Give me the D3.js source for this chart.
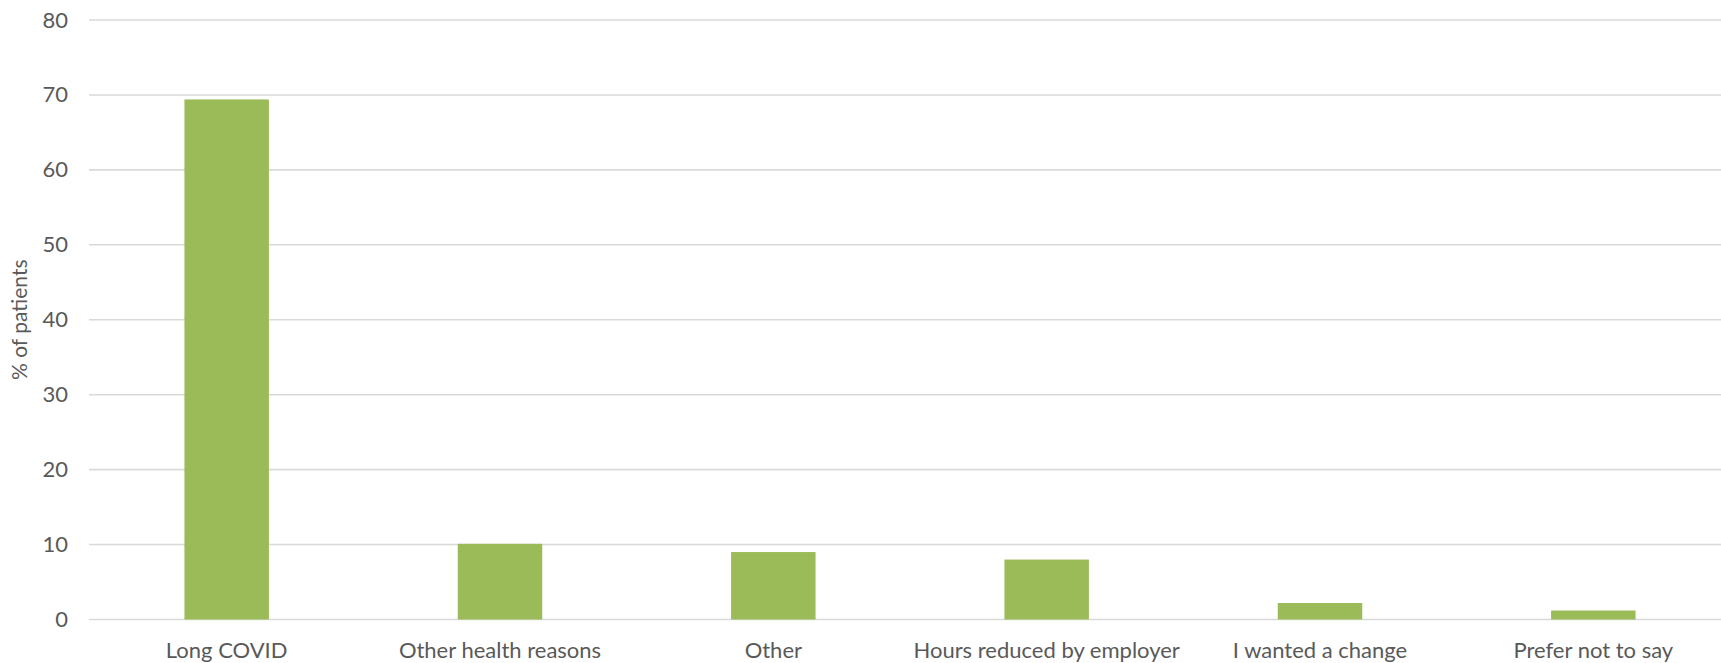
<!DOCTYPE html>
<html><head><meta charset="utf-8">
<script src="https://cdn.jsdelivr.net/npm/d3@7"></script>
<style>html,body{margin:0;padding:0;background:#fff;overflow:hidden}</style>
</head><body>
<svg id="chart" width="1721" height="663"></svg>
<script>
const categories = ["Long COVID","Other health reasons","Other","Hours reduced by employer","I wanted a change","Prefer not to say"];
const values = [69.4, 10.1, 9.0, 8.0, 2.2, 1.2];
const yTicks = [0,10,20,30,40,50,60,70,80];
const yTitle = "% of patients";

const W = 1721, H = 663;
const m = {left: 89, top: 20, bottom: 43.5};
const plotRight = 1730;
const svg = d3.select("#chart");
const font = "Lato, 'Open Sans', sans-serif";

const x = d3.scaleBand().domain(categories).range([m.left + 1, plotRight]).paddingInner(0.691).paddingOuter(0.3455);
const y = d3.scaleLinear().domain([0, 80]).range([H - m.bottom, m.top]);

// gridlines
svg.append("g").selectAll("line").data(yTicks).join("line")
  .attr("x1", m.left).attr("x2", W)
  .attr("y1", d => y(d)).attr("y2", d => y(d))
  .attr("stroke", "#d9d9d9").attr("stroke-width", 1.6);

// bars
svg.append("g").selectAll("rect").data(values).join("rect")
  .attr("x", (d,i) => x(categories[i]))
  .attr("width", x.bandwidth())
  .attr("y", d => y(d))
  .attr("height", d => y(0) - y(d))
  .attr("fill", "#9bbb59");

// y axis
const yAxis = d3.axisLeft(y).tickValues(yTicks).tickSize(0).tickPadding(21);
const gy = svg.append("g").attr("transform", `translate(${m.left},0)`).call(yAxis);
gy.select(".domain").remove();
gy.selectAll("text").attr("fill", "#595959").style("font-family", font).style("font-size", "22px");

// x axis
const xAxis = d3.axisBottom(x).tickSize(0).tickPadding(22.5);
const gx = svg.append("g").attr("transform", `translate(0,${y(0)})`).call(xAxis);
gx.select(".domain").remove();
gx.selectAll("text").attr("fill", "#595959").style("font-family", font).style("font-size", "22px");

// y title
svg.append("text")
  .attr("transform", `translate(27,${(y(0)+y(80))/2}) rotate(-90)`)
  .attr("text-anchor", "middle")
  .attr("fill", "#595959")
  .style("font-family", font).style("font-size", "21px")
  .text(yTitle);
</script>
</body></html>
